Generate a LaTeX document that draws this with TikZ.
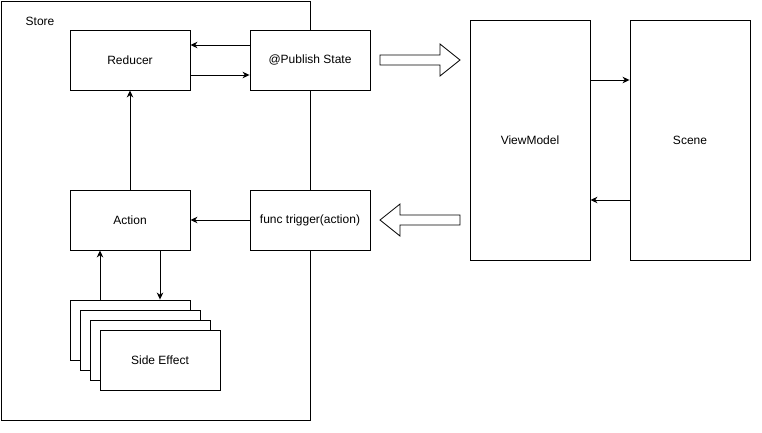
\documentclass[tikz,border=0pt]{standalone}
\usepackage{fontspec}
\setmainfont{Liberation Sans}
\usetikzlibrary{arrows.meta,positioning}
\begin{document}
\begin{tikzpicture}[x=1pt,y=-1pt,
  every node/.style={font=\fontsize{12}{14}\selectfont},
  box/.style={draw=black,fill=white,line width=0.9pt,minimum width=120pt,minimum height=60pt,inner sep=0pt},
  tall/.style={draw=black,fill=white,line width=0.9pt,minimum width=120pt,minimum height=240pt,inner sep=0pt},
  conn/.style={line width=0.9pt,-{Stealth[length=7pt,width=6.5pt,inset=2.2pt]}},
  blockarrow/.style={draw=black,fill=white,line width=0.8pt,line join=miter}
]
\useasboundingbox (0,0) rectangle (762,432);
\node[draw=black,line width=0.9pt,minimum width=309pt,minimum height=419pt,inner sep=0pt] (store) at (155.5,210.5) {};
\node (storelbl) at (40,21) {Store};
\node[box] (reducer) at (130,60) {Reducer};
\node[box] (pub) at (310,60) {@Publish State};
\node[box] (action) at (130,220) {Action};
\node[box] (trigger) at (310,220) {func trigger(action)};
\node[box] (se1) at (130,330) {};
\node[box] (se2) at (140,340) {};
\node[box] (se3) at (150,350) {};
\node[box] (se4) at (160,360) {Side Effect};
\node[tall] (vm) at (530,140) {ViewModel};
\node[tall] (scene) at (690,140) {Scene};

\draw[conn] ([yshift=15pt]pub.west) -- ([yshift=15pt]reducer.east);
\draw[conn] ([yshift=-15pt]reducer.east) -- ([yshift=-15pt]pub.west);
\draw[conn] (action.north) -- (reducer.south);
\draw[conn] (trigger.west) -- (action.east);
\draw[conn] ([xshift=-30pt]se1.north) -- ([xshift=-30pt]action.south);
\draw[conn] ([xshift=30pt]action.south) -- ([xshift=30pt]se1.north);
\draw[conn] ([yshift=60pt]vm.east) -- ([yshift=60pt]scene.west);
\draw[conn] ([yshift=-60pt]scene.west) -- ([yshift=-60pt]vm.east);

\draw[blockarrow] (380,55) -- (440,55) -- (440,44) -- (460,60) -- (440,76) -- (440,65) -- (380,65) -- cycle;
\draw[blockarrow] (460,215) -- (400,215) -- (400,204) -- (380,220) -- (400,236) -- (400,225) -- (460,225) -- cycle;
\end{tikzpicture}
\end{document}
